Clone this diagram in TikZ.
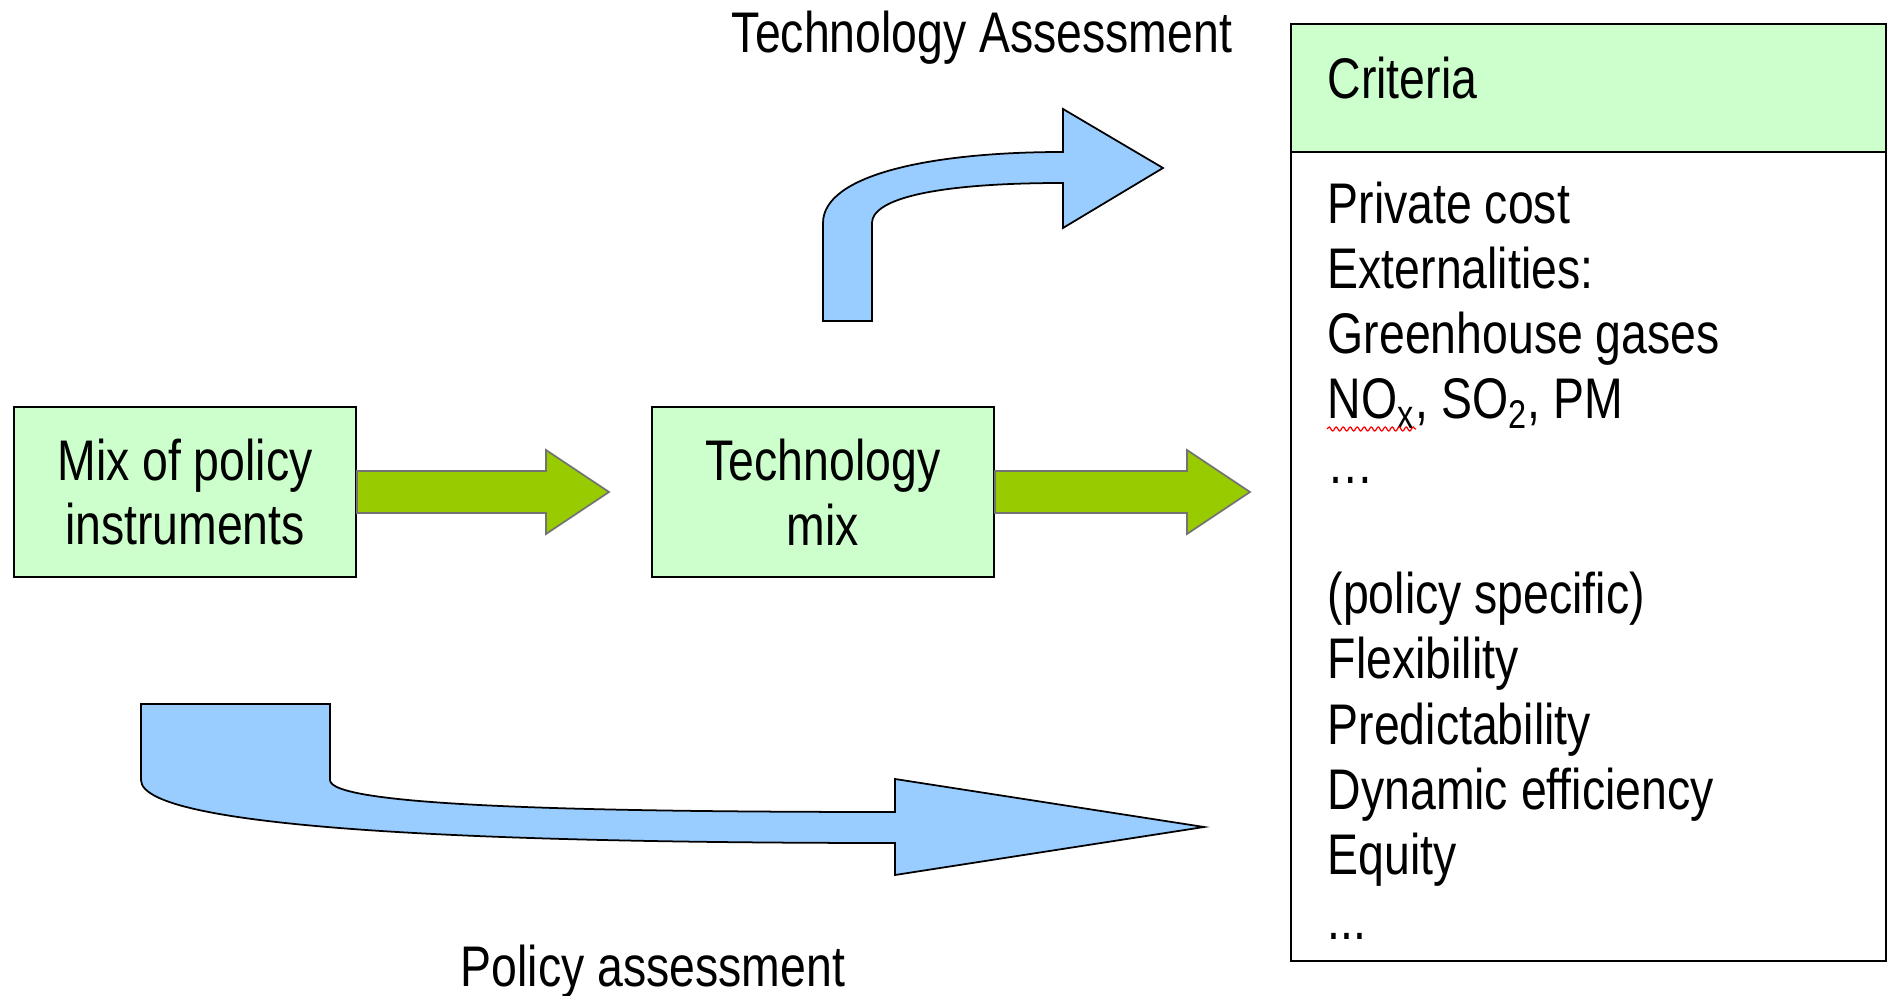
\documentclass[tikz,border=0pt]{standalone}
\usepackage{fontspec}
\setmainfont{Liberation Sans}[FakeStretch=0.81]
\usetikzlibrary{calc,decorations.pathmorphing}
\definecolor{boxgreen}{HTML}{CCFFCC}
\definecolor{arrowgreen}{HTML}{99CC00}
\definecolor{arrowblue}{HTML}{99CCFF}
\newcommand\moredots{...}
\tikzset{
  txt/.style={font=\fontsize{16.3pt}{18.4pt}\selectfont, inner sep=0pt},
  mixbox/.style={draw, line width=0.6pt, fill=boxgreen, minimum width=34.2mm, minimum height=17mm, align=center, txt},
  tablebox/.style={draw, line width=0.6pt, minimum width=59.5mm, anchor=north west, outer sep=0pt},
  greenarrow/.style={fill=arrowgreen, draw=black!55, line width=0.5pt},
  bluearrow/.style={fill=arrowblue, draw=black, line width=0.5pt},
}
\begin{document}
\begin{tikzpicture}[x=0.1mm,y=-0.1mm]
\useasboundingbox (0,0) rectangle (1890,996);
\node[mixbox] (mix) at (185,492) {Mix of policy\\instruments};
\node[mixbox] (tech) at (823,492) {Technology\\mix};
\coordinate (tipA) at (609,492);
\coordinate (tipB) at (1250,492);
\foreach \from/\to in {mix/tipA,tech/tipB}
  \draw[greenarrow] ($(\from.east)+(0,-21)$) -- ($(\to)+(-63,-21)$) -- ($(\to)+(-63,-42)$) -- (\to)
    -- ($(\to)+(-63,42)$) -- ($(\to)+(-63,21)$) -- ($(\from.east)+(0,21)$) -- cycle;
% criteria table
\node[tablebox, fill=boxgreen, minimum height=12.8mm] (crithead) at (1291,24) {};
\node[tablebox, minimum height=80.9mm] (critbody) at (crithead.south west) {};
\node[txt, anchor=base west] (crit) at (1327,99) {Criteria};
\foreach \t [count=\i] in {Private cost, Externalities:, Greenhouse gases, {NO\textsubscript{x}, SO\textsubscript{2}, PM}, …, {}, (policy specific), Flexibility, Predictability, Dynamic efficiency, Equity, \moredots}
  \node[txt, anchor=base west] (item\i) at (1327,159+65*\i) {\t};
\draw[red, line width=0.35pt, decorate, decoration={snake, amplitude=0.2mm, segment length=0.7mm}] ($(item4.base west)+(0,10)$) -- ++(89,0);
% bent arrows
\draw[bluearrow] (823,321) -- (823,223) .. controls (823,175) and (930,152) .. (1063,152) -- (1063,109) -- (1163,168)
  -- (1063,228) -- (1063,183) .. controls (930,183) and (872,200) .. (872,223) -- (872,321) -- cycle;
\draw[bluearrow] (141,704) -- (330,704) -- (330,780) .. controls (330,805) and (560,812) .. (895,812) -- (895,779) -- (1204,827)
  -- (895,875) -- (895,843) .. controls (500,843) and (141,830) .. (141,780) -- cycle;
\node[txt, anchor=base] (techlab) at (982,53) {Technology Assessment};
\node[txt, anchor=base] (polylab) at (653,986) {Policy assessment};
\end{tikzpicture}
\end{document}
